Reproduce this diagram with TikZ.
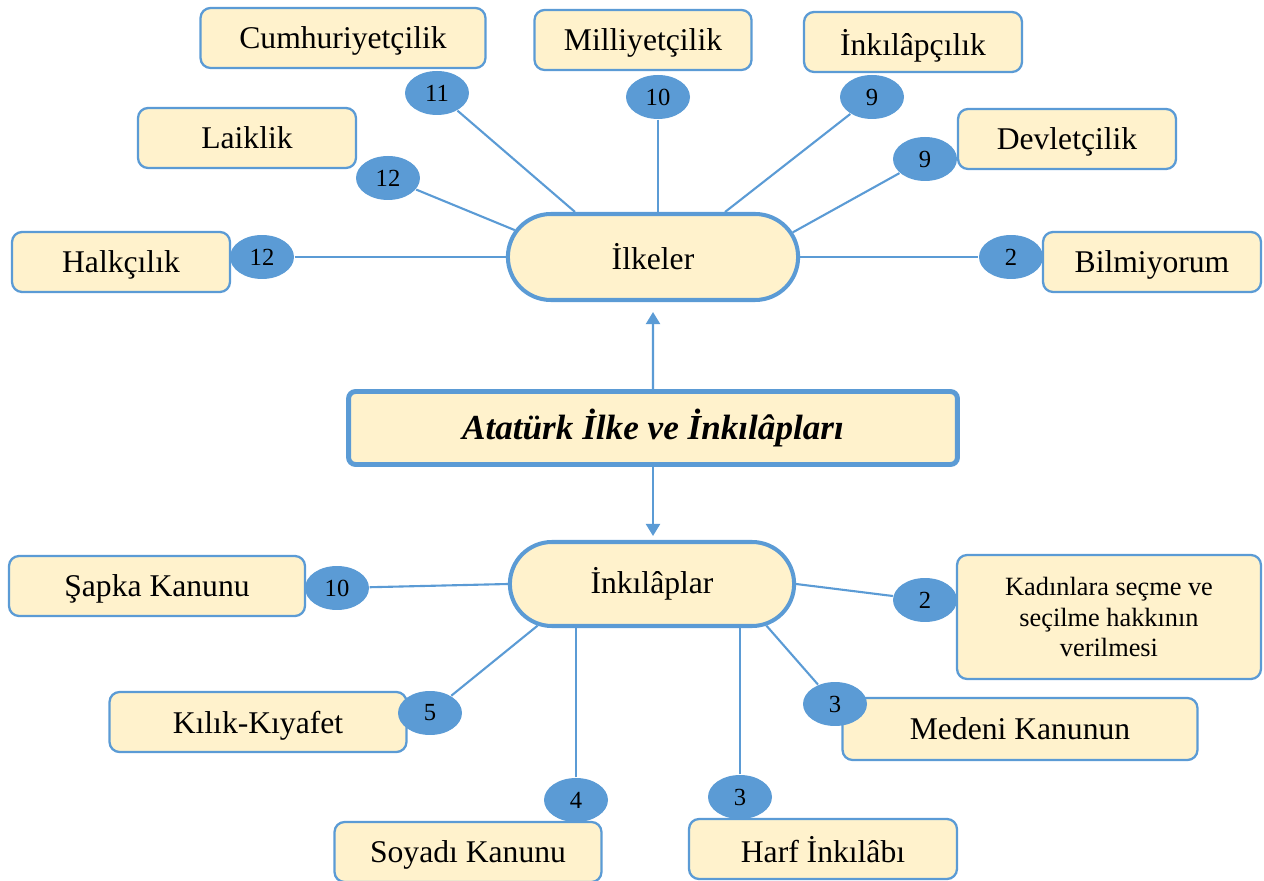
\documentclass[tikz,border=0pt]{standalone}
\usepackage{fontspec}
\setmainfont{Liberation Serif}
\usetikzlibrary{shapes.misc,shapes.geometric,arrows.meta}
\definecolor{bl}{HTML}{5B9BD5}
\definecolor{cr}{HTML}{FFF2CC}

\begin{document}
\begin{tikzpicture}[x=0.02cm, y=-0.02cm, thick,
  box/.style = {draw=bl, fill=cr, line width=1.3pt, rounded corners=0.2cm, minimum width=4.36cm, minimum height=1.2cm, text depth=0pt, font=\fontsize{18}{21}\selectfont},
  pill/.style = {draw=bl, fill=cr, line width=2.3pt, rounded rectangle, font=\fontsize{18}{21}\selectfont},
  num/.style = {fill=bl, ellipse, minimum width=1.28cm, minimum height=0.88cm, inner sep=0pt, font=\fontsize{14}{16}\selectfont},
  link/.style = {draw=bl, line width=1.2pt}]
\useasboundingbox (0,0) rectangle (1264,881);

\node[draw=bl, fill=cr, line width=2.8pt, rounded corners=0.14cm, minimum width=12.18cm, minimum height=1.46cm, font=\fontsize{20}{24}\selectfont\bfseries\itshape] (main) at (653,428) {Atatürk İlke ve İnkılâpları};
\node[pill, minimum width=6.04cm, minimum height=1.72cm] (ilk) at (653,257) {İlkeler};
\node[pill, minimum width=5.92cm, minimum height=1.68cm] (ink) at (652,584) {İnkılâplar};

\node[box, minimum width=5.7cm] (cum) at (343,38) {Cumhuriyetçilik};
\node[box, minimum width=4.34cm] (mil) at (643,40) {Milliyetçilik};
\node[box] (inp) at (913,42) {İnkılâpçılık};
\node[box] (lai) at (247,138) {Laiklik};
\node[box] (dev) at (1067,139) {Devletçilik};
\node[box] (hal) at (121,262) {Halkçılık};
\node[box] (bil) at (1152,262) {Bilmiyorum};

\node[box, minimum width=5.92cm] (sap) at (157,586) {Şapka Kanunu};
\node[box, minimum width=6.08cm, minimum height=2.48cm, align=center, text depth=, font=\fontsize{15}{17.6}\selectfont] (kad) at (1109,617) {Kadınlara seçme ve\\seçilme hakkının\\verilmesi};
\node[box, minimum width=5.94cm] (kil) at (258,722) {Kılık-Kıyafet};
\node[box, minimum width=7.1cm, minimum height=1.24cm] (med) at (1020,729) {Medeni Kanunun};
\node[box, minimum width=5.34cm] (soy) at (468,852) {Soyadı Kanunu};
\node[num] (c3b) at (740,797) {3};
\node[box, minimum width=5.36cm] (har) at (823,849) {Harf İnkılâbı};

\node[num] (c11) at (437,93) {11};
\node[num] (c10) at (658,97) {10};
\node[num] (c9) at (872,97) {9};
\node[num] (c12) at (388,178) {12};
\node[num] (c9b) at (925,159) {9};
\node[num] (c12b) at (262,257) {12};
\node[num] (c2) at (1011,257) {2};
\node[num] (c10b) at (337,588) {10};
\node[num] (c2b) at (925,600) {2};
\node[num] (c5) at (430,713) {5};
\node[num] (c3) at (835,704) {3};
\node[num] (c4) at (576,800) {4};

\draw[link] (c11) -- (ilk.150);
\draw[link] (c10) -- (c10 |- ilk.north);
\draw[link] (c9) -- (ilk.32);
\draw[link] (c12) -- (ilk.169);
\draw[link] (c9b) -- (ilk.10);
\draw[link] (c12b) -- (ilk.west);
\draw[link] (ilk.east) -- (c2);

\draw[link] (c10b) -- (ink.west);
\draw[link] (ink.east) -- (c2b);
\draw[link] (c5) -- (ink.200);
\draw[link] (c3) -- (ink.-20);
\draw[link] (c4) -- (c4 |- ink.south);
\draw[link] (c3b) -- (c3b |- ink.south);

\draw[link, -{Triangle[width=0.28cm,length=0.24cm]}, shorten >=0.2cm] (main) -- (ilk);
\draw[link, -{Triangle[width=0.28cm,length=0.24cm]}, shorten >=0.08cm] (main) -- (main.south |- ink.north);
\end{tikzpicture}
\end{document}
